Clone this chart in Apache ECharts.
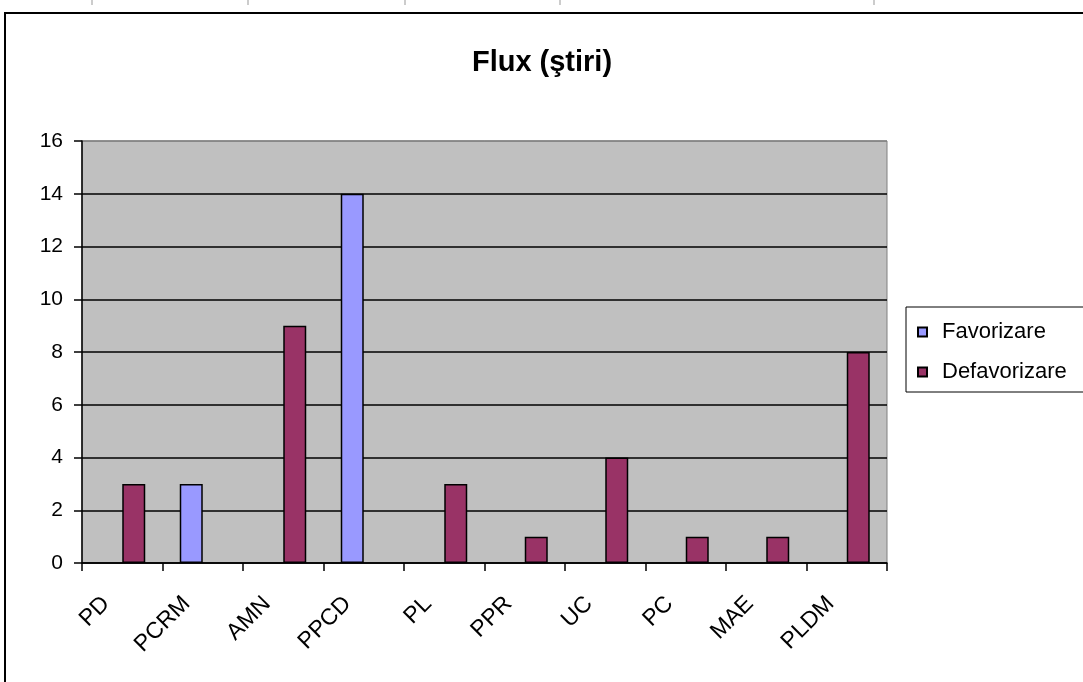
<!DOCTYPE html>
<html>
<head>
<meta charset="utf-8">
<script src="https://cdn.jsdelivr.net/npm/echarts@6/dist/echarts.min.js"></script>
<style>
html,body{margin:0;padding:0;background:#fff;}
#chart{width:1083px;height:682px;}
</style>
</head>
<body>
<div id="chart"></div>
<script>
const categories = ['PD','PCRM','AMN','PPCD','PL','PPR','UC','PC','MAE','PLDM'];
const favorizare = [null, 3, null, 14, null, null, null, null, null, null];
const defavorizare = [3, null, 9, null, 3, 1, 4, 1, 1, 8];
const seriesNames = ['Favorizare', 'Defavorizare'];
const titleText = 'Flux (ştiri)';
const yMin = 0, yMax = 16, yStep = 2;

const FONT = 'Liberation Sans, Arial, sans-serif';
const chart = echarts.init(document.getElementById('chart'), null, {renderer: 'canvas'});
const topMarks = [92, 248, 405, 560, 874].map(x => ({
  type: 'line', silent: true,
  shape: {x1: x, y1: 0, x2: x, y2: 5},
  style: {stroke: '#999', lineWidth: 1}
}));
chart.setOption({
  animation: false,
  backgroundColor: '#fff',
  title: {
    text: titleText,
    left: 537, top: 43, textAlign: 'center',
    textStyle: {fontFamily: FONT, fontSize: 29, fontWeight: 'bold', color: '#000'}
  },
  graphic: [{
    type: 'rect', silent: true, z: -1,
    shape: {x: 5, y: 13, width: 1200, height: 800},
    style: {fill: 'none', stroke: '#000', lineWidth: 2}
  }].concat(topMarks),
  legend: {
    orient: 'vertical',
    left: 906, top: 307,
    padding: [14, 30, 9, 11],
    itemGap: 18,
    itemWidth: 9, itemHeight: 9,
    icon: 'rect',
    borderColor: '#000', borderWidth: 1,
    backgroundColor: '#fff',
    textStyle: {fontFamily: FONT, fontSize: 22, color: '#000', padding: [0, 0, 0, 10]},
    data: seriesNames
  },
  grid: {
    left: 82, top: 141, width: 805, height: 422,
    show: true, backgroundColor: '#C0C0C0', borderColor: '#808080', borderWidth: 1
  },
  xAxis: {
    type: 'category',
    data: categories,
    axisLine: {lineStyle: {color: '#000', width: 1.5}},
    axisTick: {show: true, alignWithLabel: false, length: 8, lineStyle: {color: '#000', width: 1.5}},
    axisLabel: {rotate: 45, margin: 21, padding: [0, 23, 0, 0], fontFamily: FONT, fontSize: 23, color: '#000', interval: 0},
    splitLine: {show: false}
  },
  yAxis: {
    type: 'value',
    min: yMin, max: yMax, interval: yStep,
    axisLine: {show: true, lineStyle: {color: '#000', width: 1.5}},
    axisTick: {show: true, length: 8, lineStyle: {color: '#000', width: 1.5}},
    axisLabel: {margin: 19, fontFamily: FONT, fontSize: 21, color: '#000'},
    splitLine: {show: true, lineStyle: {color: ['#000','#000','#000','#000','#000','#000','#000','#000','#808080'], width: 1.5}}
  },
  series: [
    {
      name: seriesNames[0], type: 'bar', data: favorizare,
      barWidth: 23, barGap: '0%',
      itemStyle: {color: '#9999FF', borderColor: '#000', borderWidth: 1.5}
    },
    {
      name: seriesNames[1], type: 'bar', data: defavorizare,
      barWidth: 23, barGap: '0%',
      itemStyle: {color: '#993366', borderColor: '#000', borderWidth: 1.5}
    }
  ]
});
</script>
</body>
</html>
